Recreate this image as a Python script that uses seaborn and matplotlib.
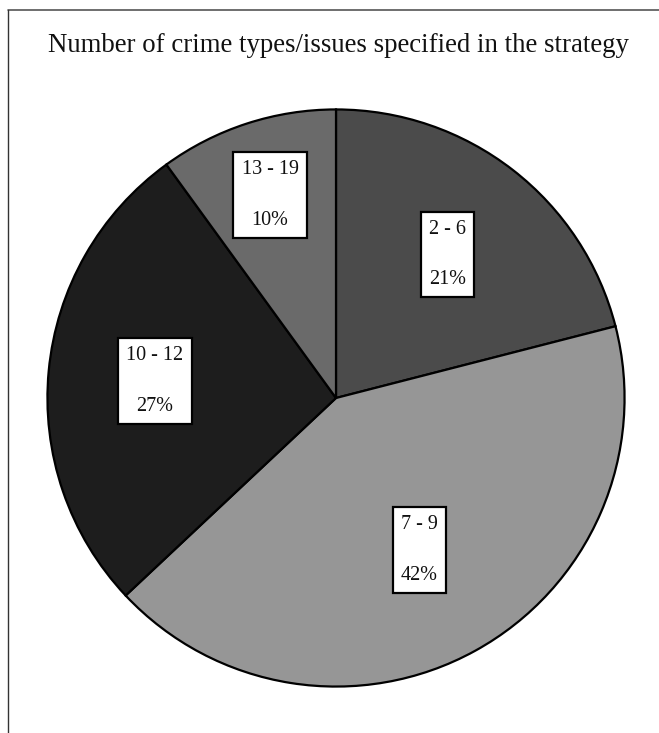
import numpy as np
import matplotlib.pyplot as plt
import seaborn as sns
from matplotlib.lines import Line2D

# data
categories = ['2 - 6', '7 - 9', '10 - 12', '13 - 19']
shares = [21, 42, 27, 10]
pct_labels = ['21%', '42%', '27%', '10%']
slice_colors = ['#4b4b4b', '#969696', '#1d1d1d', '#6a6a6a']
label_dist = [0.63, 0.60, 0.63, 0.74]

sns.set_theme(style="white")
plt.rcParams['font.family'] = ['Liberation Serif', 'DejaVu Serif']

fig = plt.figure(figsize=(6.59, 7.33), dpi=100)
W, H = 659, 733
cx, cy, r = 336, 398, 290
ax = fig.add_axes([(cx - r) / W, (H - cy - r) / H, 2 * r / W, 2 * r / H])

wedges, _ = ax.pie(shares, colors=slice_colors, startangle=90, counterclock=False,
                   wedgeprops=dict(edgecolor='black', linewidth=1.6))
ax.set_xlim(-1.005, 1.005)
ax.set_ylim(-1.005, 1.005)

for w, cat, pct, d in zip(wedges, categories, pct_labels, label_dist):
    mid = np.deg2rad((w.theta1 + w.theta2) / 2)
    ax.text(d * np.cos(mid), d * np.sin(mid), f"{cat}\n\n{pct}",
            ha='center', va='center', fontsize=14.5, linespacing=1.45, color='#111111',
            bbox=dict(boxstyle='square,pad=0.4', facecolor='white',
                      edgecolor='black', linewidth=1.6))

fig.text(338 / W, 1 - 45 / H, 'Number of crime types/issues specified in the strategy',
         ha='center', va='center', fontsize=19.3, color='#111111')

# frame lines (top and left only)
fig.add_artist(Line2D([8 / W, 1], [1 - 10 / H, 1 - 10 / H], color='#555555', linewidth=1.2))
fig.add_artist(Line2D([8 / W, 8 / W], [0, 1 - 10 / H], color='#333333', linewidth=1.0))

fig.savefig('out.png', dpi=100)
